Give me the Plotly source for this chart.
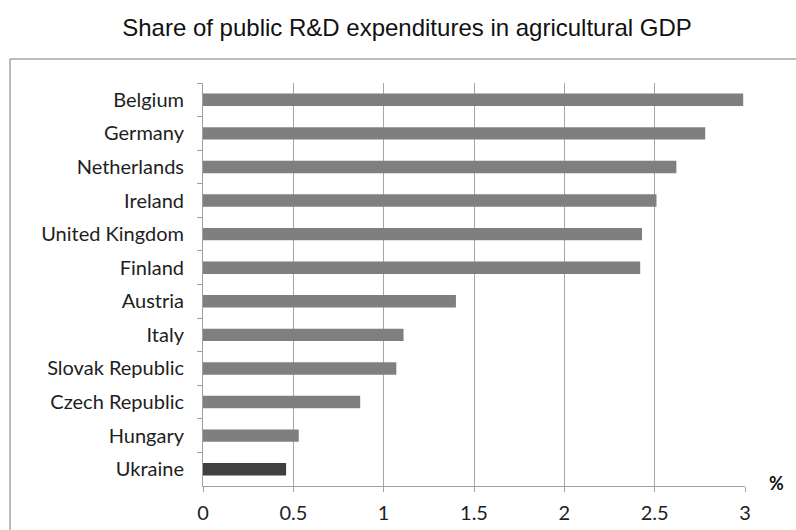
import plotly.graph_objects as go

countries = ["Belgium", "Germany", "Netherlands", "Ireland", "United Kingdom",
             "Finland", "Austria", "Italy", "Slovak Republic", "Czech Republic",
             "Hungary", "Ukraine"]
shares = [2.99, 2.78, 2.62, 2.51, 2.43, 2.42, 1.40, 1.11, 1.07, 0.87, 0.53, 0.46]
x_ticks = [0, 0.5, 1, 1.5, 2, 2.5, 3]
x_tick_text = ["0", "0.5", "1", "1.5", "2", "2.5", "3"]

bar_colors = ["#404040" if c == "Ukraine" else "#7f7f7f" for c in countries]

W, H = 796, 530
L, R, T, B = 203, 51, 83, 44
pw, ph = W - L - R, H - T - B


def px_x(p):
    return (p - L) / pw


def px_y(p):
    return (H - B - p) / ph


fig = go.Figure(go.Bar(
    x=shares, y=countries, orientation="h",
    marker=dict(color=bar_colors, line=dict(width=0)),
    width=0.37,
))

label_font = dict(family="Lato, Calibri, Carlito, sans-serif", size=20, color="#1e1e1e")

fig.update_layout(
    width=W, height=H,
    margin=dict(l=L, r=R, t=T, b=B, autoexpand=False),
    plot_bgcolor="white", paper_bgcolor="white",
    showlegend=False,
    title=dict(text="Share of public R&D expenditures in agricultural GDP",
               xref="paper", x=px_x(407), xanchor="center",
               y=1 - 28 / H, yanchor="middle",
               font=dict(family="Liberation Sans, Arial, sans-serif", size=24, color="#111")),
    xaxis=dict(range=[0, 3], tickvals=x_ticks, ticktext=x_tick_text,
               showgrid=True, gridcolor="#a6a6a6", gridwidth=1,
               showline=True, linecolor="#a0a0a0", linewidth=1,
               ticks="outside", ticklen=5, tickcolor="#a0a0a0",
               ticklabelstandoff=4, automargin=False,
               tickfont=label_font, zeroline=False, fixedrange=True),
    yaxis=dict(autorange="reversed", showgrid=False,
               showline=True, linecolor="#a0a0a0", linewidth=1,
               ticks="outside", ticklen=5, tickcolor="#a0a0a0",
               tickson="boundaries", ticklabelstandoff=14, automargin=False,
               tickfont=label_font, fixedrange=True),
)

# Outer frame (top and left edges)
frame_top = 59
frame_left = 10
fig.add_shape(type="line", xref="paper", yref="paper",
              x0=px_x(frame_left), x1=px_x(W + 5), y0=px_y(frame_top), y1=px_y(frame_top),
              line=dict(color="#a6a6a6", width=1.5))
fig.add_shape(type="line", xref="paper", yref="paper",
              x0=px_x(frame_left), x1=px_x(frame_left), y0=px_y(frame_top), y1=px_y(H + 5),
              line=dict(color="#a6a6a6", width=1.5))

fig.add_annotation(text="<b>%</b>", xref="paper", yref="paper",
                   x=px_x(776), y=px_y(483), showarrow=False,
                   xanchor="center", yanchor="middle",
                   font=dict(family="Lato, Calibri, sans-serif", size=18, color="#111"))

fig.write_html("out.html")
